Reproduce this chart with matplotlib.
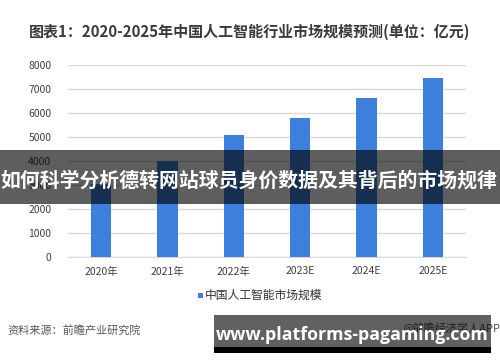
import matplotlib
matplotlib.use("Agg")
import matplotlib.pyplot as plt
from matplotlib.patches import Rectangle

plt.rcParams['font.family'] = ['Noto Sans CJK SC', 'DejaVu Sans']

categories = ["2020年", "2021年", "2022年", "2023E", "2024E", "2025E"]
values = [3031, 4000, 5090, 5800, 6630, 7460]
yticks = [0, 1000, 2000, 3000, 4000, 5000, 6000, 7000, 8000]
title = "图表1：2020-2025年中国人工智能行业市场规模预测(单位：亿元)"
legend_label = "中国人工智能市场规模"
source = "资料来源：前瞻产业研究院"
credit = "@前瞻经济学人APP"
banner = "如何科学分析德转网站球员身价数据及其背后的市场规律"
url = "www.platforms-pagaming.com"

W, H = 500, 362
fig = plt.figure(figsize=(5, 3.62), dpi=100)
fig.patch.set_facecolor("white")

ax = fig.add_axes([68 / W, 1 - 256.7 / H, (466 - 68) / W, (256.7 - 65) / H])
x = list(range(len(categories)))
bars = ax.bar(x, values, width=0.31, color="#3c7fdc", zorder=3, label=legend_label)
ax.set_xlim(-0.5, len(categories) - 0.5)
ax.set_ylim(0, 8000)
ax.set_yticks(yticks)
ax.set_yticklabels([str(v) for v in yticks], fontsize=7.5, color="#404040")
ax.set_xticks(x)
ax.set_xticklabels(categories, fontsize=7.5, color="#404040")
ax.tick_params(length=0, pad=12)
ax.tick_params(axis="x", pad=7)
ax.grid(axis="y", color="#d9d9d9", linewidth=1.0, zorder=0)
for s in ["top", "right", "left"]:
    ax.spines[s].set_visible(False)
ax.spines["bottom"].set_color("#d9d9d9")

# Legend
fig.patches.append(Rectangle((198 / W, 1 - 298 / H), 5 / W, 5 / H, transform=fig.transFigure,
                             facecolor="#3c7fdc", edgecolor="none"))
fig.text(205 / W, 1 - 295.5 / H, legend_label, fontsize=8.5, color="#333333", va="center", ha="left")

# Title
fig.text(249.5 / W, 1 - 32 / H, title, fontsize=10.8, fontweight="bold", color="#3a3a3a",
         ha="center", va="center")

# Source and credit
fig.text(7 / W, 1 - 330 / H, source, fontsize=8, color="#555555", ha="left", va="center")
fig.text(500 / W, 1 - 328 / H, credit, fontsize=8, color="#555555", ha="right", va="center")

# Overlay banner across the middle
fig.patches.append(Rectangle((0, 1 - 204 / H), 1, 54 / H, transform=fig.transFigure,
                             facecolor="black", alpha=0.63, edgecolor="none", zorder=10))
fig.text(249 / W, 1 - 180 / H, banner, fontsize=14.3, fontweight="bold", color="white",
         ha="center", va="center", zorder=11)

# Bottom-right URL banner
fig.patches.append(Rectangle((214 / W, 1 - 347 / H), (491 - 214) / W, (347 - 315) / H,
                             transform=fig.transFigure, facecolor="black", alpha=0.62,
                             edgecolor="none", zorder=10))
fig.patches.append(Rectangle((214 / W, 1 - 353 / H), (491 - 214) / W, 6 / H,
                             transform=fig.transFigure, facecolor="black",
                             edgecolor="none", zorder=10))
fig.text(352 / W, 1 - 335 / H, url, fontsize=12.8, fontweight="bold", color="white",
         ha="center", va="center", zorder=11, family=["Open Sans", "DejaVu Sans"])

fig.savefig("out.png", dpi=100)
